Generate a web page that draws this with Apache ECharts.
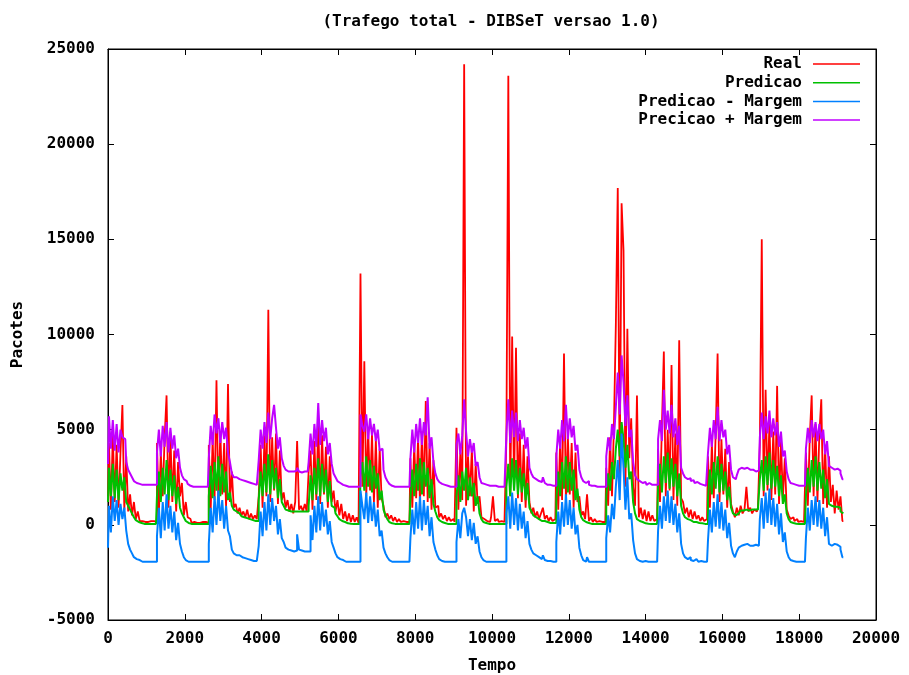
<!DOCTYPE html>
<html><head><meta charset="utf-8">
<script src="https://cdn.jsdelivr.net/npm/echarts@6/dist/echarts.min.js"></script>
<style>html,body{margin:0;padding:0;background:#fff}#c{width:909px;height:675px}</style>
</head><body><div id="c"></div>
<script>
// Sampling interval (time units) within each daily cycle
const STEP = 50;
// Start time of each daily cycle
const cycleStart = [0,1300,2650,3950,5250,6600,7900,9100,10400,11700,13000,14350,15650,17000,18200];

const xTicks = {min:0, max:20000, interval:2000};
const yTicks = {min:-5000, max:25000, interval:5000};

// Real traffic, per cycle
const real = [
 [1500,4300,800,4700,1200,4200,900,3800,6300,800,3600,700,1600,500,1200,300,700,200,200,150,200,150,200,150,200,150],
 [4300,600,3800,1500,4600,6800,900,4800,1200,3900,700,3300,1500,2200,500,1200,400,300,100,150,100,150,100,150,100,150,100],
 [4200,800,4500,1300,7600,1000,4900,1600,4300,900,7400,1200,2800,900,1100,600,900,500,700,400,800,300,600,300,500,300],
 [1500,4200,900,4700,1500,11300,1200,4600,1800,4800,1100,3900,1300,1700,900,1300,700,1100,600,1200,4400,800,1000,700,1100,700],
 [2800,3900,800,4400,1300,5400,1100,4700,1600,4100,900,3600,1200,1800,700,1300,500,1100,300,700,200,600,150,500,150,400,100],
 [13200,2000,8600,1500,5000,1800,4800,1200,4500,900,4000,1400,1000,400,600,300,500,200,400,150,300,150,200,150,200,150],
 [3500,900,4200,1400,4600,1100,4900,1500,6500,1200,4300,800,3400,900,1000,400,600,300,500,200,400,200,300,150],
 [5100,800,3800,1300,24200,1000,3600,1500,4000,700,3200,1100,1500,400,300,200,300,150,400,1500,200,300,150,200,150,200],
 [4500,23600,1500,9900,2000,9300,1400,4800,1200,4200,900,3600,1200,600,900,400,700,300,600,900,300,500,200,400,200,300],
 [3800,800,4500,1300,9000,1100,4700,1600,4300,900,3800,1200,1500,500,700,300,1600,200,400,150,300,150,200,150,200,150],
 [3000,1000,4600,1500,5200,10500,17700,2500,16900,14400,2000,10300,3500,5600,2000,1000,6800,400,900,300,800,200,700,200,500,200,300],
 [4000,1200,5200,9100,1500,5000,1800,8400,1300,4800,1000,9700,1400,1200,600,900,400,800,300,700,300,500,200,400,200,300],
 [3600,900,4300,1400,4800,9000,1200,4500,1600,4000,900,3300,1100,700,400,900,500,1000,600,800,2000,700,900,600,800,700,900],
 [4200,15000,1500,7100,1800,5400,1300,4900,1600,7300,1100,4400,1400,3500,800,500,300,400,200,300,150,200,150,150],
 [3800,1000,4600,6800,1500,5300,1200,4800,6600,1100,4200,900,3600,1200,2100,600,1800,800,1500,200]
];

// Prediction, per cycle
const pred = [
 [1200,3000,1500,3200,1400,2900,1300,2700,1800,2500,1200,1000,800,600,400,250,150,100,50,50,50,50,50,50,50,50],
 [1500,2800,1200,3000,1600,3400,1300,2900,1500,2600,1100,2000,900,600,400,200,100,50,50,50,50,50,50,50,50,50,50],
 [1500,3100,1400,3300,1800,3600,1500,3200,1700,2800,1300,1700,1000,800,700,600,500,450,400,350,300,300,250,250,200,200],
 [1300,2800,1500,3200,1700,3700,1600,3400,1900,3000,1400,2400,1200,1000,800,750,700,700,700,700,750,700,700,700,700,700],
 [1000,2600,1300,3000,1600,3500,1500,3200,1700,2900,1200,2300,1000,900,600,450,300,200,150,100,80,60,50,50,50,50,50],
 [2500,3300,1800,3600,2000,3400,1700,3100,1900,2700,1300,1800,800,500,300,150,80,50,50,50,50,50,50,50,50,50],
 [1400,2900,1500,3200,1800,3500,1600,3300,2000,3000,1400,2400,1100,700,400,250,150,100,50,50,50,50,50,50],
 [1500,2600,1200,2800,1800,3000,1300,2500,1500,2200,1000,1500,600,300,150,100,50,50,50,50,50,50,50,50,50,50],
 [2000,3200,1500,3500,1800,3400,1600,3000,1700,2700,1300,2200,900,700,500,400,300,250,200,200,150,150,100,100,100,100],
 [1300,2800,1500,3300,1900,3600,1700,3300,1800,2900,1300,1900,800,400,250,150,100,80,50,50,50,50,50,50,50,50],
 [1500,2700,1800,3300,2400,4000,5000,3600,5400,4500,3000,4200,2400,2800,1200,600,300,200,150,100,80,60,50,50,50,50,50],
 [2000,3200,1700,3600,2200,3800,1900,3500,2000,3200,1500,2700,1000,600,400,300,250,200,150,150,100,100,80,60,50,50],
 [1400,2900,1600,3300,1900,3600,1700,3200,1800,2800,1300,2000,900,600,500,600,700,750,750,800,800,750,800,750,800,800,800],
 [2400,3400,1800,3600,2100,3800,1900,3400,2000,3100,1500,2600,1100,1600,600,300,150,100,60,50,50,50,50,50],
 [1500,3000,1700,3400,2000,3600,1800,3300,1900,2900,1400,2400,1100,1000,950,900,950,900,700,600]
];

// Prediction minus margin, per cycle
const predLow = [
 [-1200,1000,-400,1500,200,1300,0,1100,300,900,-300,-1000,-1300,-1500,-1700,-1800,-1850,-1900,-1940,-1940,-1940,-1940,-1940,-1940,-1940,-1940],
 [-600,900,-700,1200,-300,1600,-200,1000,-400,700,-800,100,-1000,-1400,-1700,-1850,-1940,-1940,-1940,-1940,-1940,-1940,-1940,-1940,-1940,-1940,-1940],
 [-1000,900,-400,1500,0,1800,200,1300,-200,1000,-300,-600,-1300,-1500,-1600,-1600,-1700,-1700,-1750,-1800,-1800,-1850,-1850,-1900,-1900,-1900],
 [-1100,700,-600,1200,-300,1600,0,1400,200,1000,-500,300,-700,-900,-1200,-1300,-1350,-1400,-1400,-1350,-500,-1300,-1350,-1400,-1350,-1400],
 [-1400,500,-800,1000,-400,1500,-300,1200,-100,800,-500,200,-900,-1200,-1500,-1700,-1800,-1850,-1900,-1940,-1940,-1940,-1940,-1940,-1940,-1940,-1940],
 [1800,1000,300,1700,100,1500,200,1200,-100,800,-600,-300,-1200,-1500,-1700,-1850,-1940,-1940,-1940,-1940,-1940,-1940,-1940,-1940,-1940,-1940],
 [-700,800,-500,1200,-200,1500,-300,1300,0,1000,-600,400,-900,-1300,-1600,-1800,-1900,-1940,-1940,-1940,-1940,-1940,-1940,-1940],
 [-900,300,-700,600,900,400,-600,300,-800,100,-1000,-600,-1400,-1700,-1850,-1940,-1940,-1940,-1940,-1940,-1940,-1940,-1940,-1940,-1940,-1940],
 [600,1500,-200,1700,0,1400,-300,1100,-200,700,-700,200,-1000,-1300,-1500,-1600,-1700,-1750,-1800,-1600,-1850,-1900,-1900,-1940,-1940,-1940],
 [-900,700,-500,1200,-100,1600,0,1300,-200,900,-500,0,-1200,-1600,-1850,-1940,-1700,-1940,-1940,-1940,-1940,-1940,-1940,-1940,-1940,-1940],
 [-700,500,-400,1100,300,2000,3400,1300,4800,3000,800,2500,300,600,-800,-1500,-1800,-1900,-1940,-1940,-1900,-1940,-1940,-1940,-1940,-1940,-1940],
 [-300,1000,-200,1500,200,1800,100,1500,0,1100,-400,600,-1000,-1500,-1700,-1800,-1700,-1850,-1900,-1800,-1900,-1940,-1900,-1940,-1940,-1940],
 [-800,800,-400,1200,-100,1600,-200,1200,-300,800,-700,100,-1100,-1500,-1700,-1400,-1200,-1100,-1050,-1100,-1000,-1100,-1050,-1100,-1050,-1100,-1100],
 [300,1400,-200,1700,100,1900,0,1400,-100,1100,-500,600,-900,-400,-1400,-1700,-1850,-1900,-1940,-1940,-1940,-1940,-1940,-1940],
 [-700,900,-300,1300,0,1500,-100,1300,-200,900,-600,400,-1000,-1100,-1000,-1100,-1050,-1150,-1300,-1700]
];

// Prediction plus margin, per cycle
const predHigh = [
 [3200,5700,4000,5500,3900,5300,3800,5000,4600,4500,3300,2900,2700,2500,2300,2200,2150,2100,2100,2100,2100,2100,2100,2100,2100,2100],
 [3800,5000,3600,5200,4100,5400,3800,5100,4000,4700,3500,4000,3000,2600,2400,2300,2150,2050,2000,2000,2000,2000,2000,2000,2000,2000,2000],
 [3500,5200,4200,5800,4800,5600,4300,5400,4500,5100,3800,3300,2700,2500,2500,2400,2400,2350,2300,2300,2250,2200,2200,2150,2100,2100],
 [3400,5000,4000,5400,4300,5900,4500,5600,6300,5100,4000,4600,3500,3100,2900,2800,2800,2750,2800,2850,3000,2800,2750,2800,2700,2800],
 [3300,4800,3700,5300,4100,6400,4200,5500,4400,5100,3700,4300,3200,2700,2500,2300,2200,2100,2050,2050,2000,2000,2000,2000,2000,2000,2000],
 [5800,5200,4900,5800,4500,5600,4700,5300,4400,5000,3900,4000,2900,2500,2300,2150,2050,2000,2000,2000,2000,2000,2000,2000,2000,2000],
 [3500,5000,3800,5300,4300,5600,4200,5400,4700,6700,4000,4600,3300,2700,2400,2250,2150,2100,2050,2050,2000,2000,2000,2000],
 [4200,4800,3700,4700,6600,4900,3600,4500,3800,4300,3100,3300,2500,2200,2150,2100,2100,2050,2050,2100,2050,2000,2050,2000,2000,2000],
 [4800,6600,4300,6000,4600,5900,4400,5500,4500,5100,4000,4600,3000,2700,2500,2400,2300,2250,2250,2500,2200,2100,2100,2100,2050,2050],
 [3600,5000,4000,5500,4400,6300,4500,5600,4600,5200,3900,4200,2900,2500,2300,2200,2300,2100,2050,2050,2000,2000,2000,2000,2000,2000],
 [3600,4600,3900,5300,4500,6200,8000,5800,8900,7500,5200,6800,4600,5000,3300,2600,2400,2300,2200,2150,2250,2100,2200,2100,2150,2100,2100],
 [4500,5500,4400,7100,5000,6000,4800,6300,4600,5600,4200,5200,3000,2700,2500,2400,2450,2300,2350,2200,2250,2150,2100,2100,2050,2050],
 [3800,5100,4100,5500,4500,6200,4400,5500,4600,5000,3700,4200,2900,2500,2400,2600,2900,3000,2950,2900,3000,2900,2850,2900,2800,2850,2850],
 [4600,5900,4500,5700,4800,6000,4600,5600,4700,5400,4100,4900,3600,3900,2800,2400,2200,2150,2100,2050,2050,2050,2050,2050],
 [4000,5100,4300,5500,4600,5400,4400,5300,4500,5000,3700,4400,3100,3000,2900,3000,2950,2850,2700,2400]
];

const seriesNames = ['Real','Predicao','Predicao - Margem','Precicao + Margem'];
const seriesData = [real, pred, predLow, predHigh];
const colors = ['#ff0000','#00c000','#0080ff','#c000ff'];

function toPairs(cycles){
  const out = [];
  cycles.forEach((vals, c) => vals.forEach((v, j) => out.push([cycleStart[c] + j*STEP, v])));
  return out;
}

const FONT = 'DejaVu Sans Mono';
const txt = {fontFamily: FONT, fontWeight: 'bold', fontSize: 16, color: '#000'};
const chart = echarts.init(document.getElementById('c'), null, {renderer: 'canvas'});

const axisCommon = {
  axisLine: {show: true, onZero: false, lineStyle: {color: '#000', width: 1}},
  axisTick: {show: true, inside: true, length: 6, lineStyle: {color: '#000'}},
  splitLine: {show: false}
};
const plain = v => String(v);

chart.setOption({
  animation: false,
  backgroundColor: '#fff',
  color: colors,
  title: {text: '(Trafego total - DIBSeT versao 1.0)', left: 486, top: 9, textAlign: 'center',
    textStyle: Object.assign({}, txt)},
  legend: seriesNames.map((n, i) => ({
    data: [n], right: 49, top: 56 + i*18.7, orient: 'horizontal', align: 'right',
    icon: 'rect', itemWidth: 47, itemHeight: 1.5, padding: 0, selectedMode: false,
    textStyle: Object.assign({}, txt, {padding: [0, 6, 0, 0]})
  })),
  grid: {left: 108, right: 33, top: 49, bottom: 55, show: true, borderColor: '#000', borderWidth: 1,
    containLabel: false, outerBoundsMode: 'none'},
  xAxis: [
    Object.assign({type: 'value', position: 'bottom', min: xTicks.min, max: xTicks.max, interval: xTicks.interval,
      axisLabel: Object.assign({margin: 11, formatter: plain}, txt),
      name: 'Tempo', nameLocation: 'middle', nameGap: 38, nameTextStyle: Object.assign({}, txt)}, axisCommon),
    Object.assign({type: 'value', position: 'top', min: xTicks.min, max: xTicks.max, interval: xTicks.interval,
      axisLabel: {show: false}}, axisCommon)
  ],
  yAxis: [
    Object.assign({type: 'value', position: 'left', min: yTicks.min, max: yTicks.max, interval: yTicks.interval,
      axisLabel: Object.assign({margin: 13, formatter: plain}, txt),
      name: 'Pacotes', nameLocation: 'middle', nameGap: 82, nameRotate: 90, nameTextStyle: Object.assign({}, txt)}, axisCommon),
    Object.assign({type: 'value', position: 'right', min: yTicks.min, max: yTicks.max, interval: yTicks.interval,
      axisLabel: {show: false}}, axisCommon)
  ],
  series: seriesNames.map((n, i) => ({
    name: n, type: 'line', xAxisIndex: 0, yAxisIndex: 0,
    data: toPairs(seriesData[i]), showSymbol: false, symbol: 'none', step: 'middle',
    lineStyle: {width: i === 0 ? 1.8 : 2, color: colors[i]}, itemStyle: {color: colors[i]},
    z: 2 + i, silent: true
  }))
});
</script>
</body></html>
